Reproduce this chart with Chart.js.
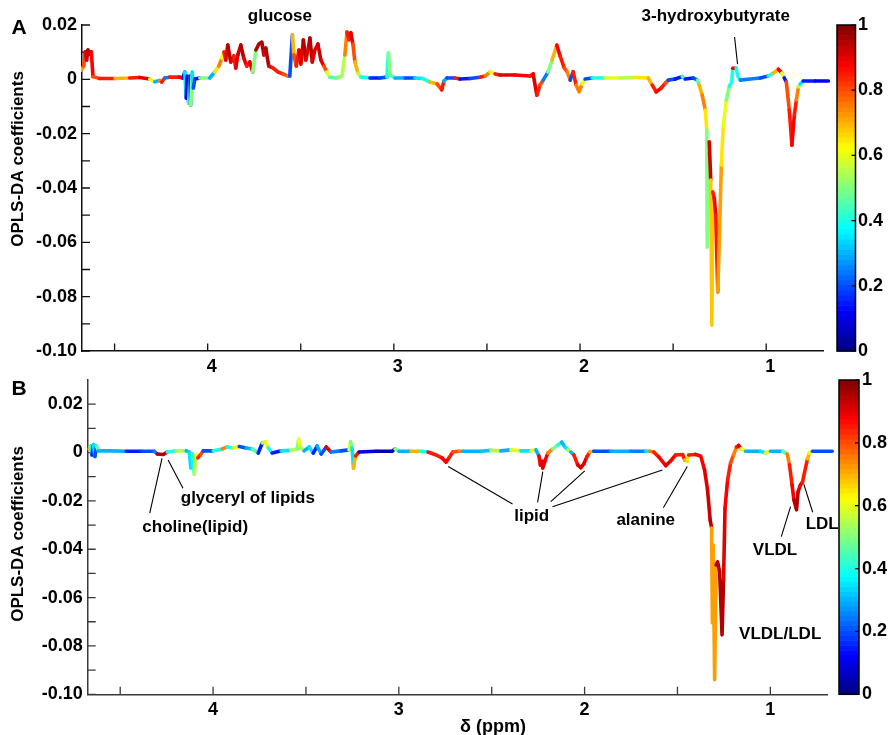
<!DOCTYPE html>
<html>
<head>
<meta charset="utf-8">
<title>OPLS-DA coefficient plots</title>
<script src="https://cdn.jsdelivr.net/npm/chart.js@4.4.1/dist/chart.umd.min.js"></script>
<style>
  html, body { margin: 0; padding: 0; background: #fff; }
  #wrap { position: relative; width: 888px; height: 735px; overflow: hidden; }
  .panel { position: absolute; left: 0; width: 888px; }
</style>
</head>
<body>
<div id="wrap">
  <div class="panel" style="top:0;height:380px"><canvas id="panelA" width="888" height="380"></canvas></div>
  <div class="panel" style="top:362px;height:373px"><canvas id="panelB" width="888" height="373"></canvas></div>
</div>
<script>
// ---- Panel A: chemical shift (ppm), OPLS-DA coefficient, correlation |r| ----
const ppmA = [4.678,4.666,4.658,4.650,4.643,4.634,4.625,4.616,4.580,4.499,4.419,4.365,4.311,4.284,4.258,4.247,4.231,4.204,4.150,4.134,
  4.123,4.115,4.110,4.102,4.095,4.091,4.083,4.077,4.069,4.042,3.989,3.962,3.940,3.924,3.913,3.903,3.892,3.876,3.860,3.849,
  3.838,3.822,3.806,3.790,3.774,3.758,3.741,3.725,3.709,3.698,3.688,3.672,3.650,3.623,3.596,3.569,3.559,3.545,3.537,3.524,
  3.510,3.499,3.486,3.473,3.459,3.451,3.438,3.424,3.408,3.392,3.376,3.360,3.344,3.311,3.279,3.263,3.252,3.241,3.231,3.220,
  3.209,3.193,3.177,3.128,3.075,3.037,3.029,3.021,2.994,2.940,2.887,2.844,2.806,2.768,2.743,2.731,2.715,2.672,2.645,2.591,
  2.537,2.510,2.483,2.456,2.430,2.349,2.268,2.252,2.232,2.215,2.198,2.172,2.150,2.125,2.107,2.085,2.069,2.053,2.037,2.021,
  2.005,1.989,1.973,1.935,1.865,1.784,1.704,1.634,1.612,1.591,1.564,1.542,1.526,1.489,1.451,1.435,1.392,1.370,1.360,1.344,
  1.327,1.319,1.317,1.311,1.306,1.298,1.292,1.287,1.279,1.271,1.260,1.252,1.241,1.231,1.214,1.198,1.185,1.180,1.161,1.153,
  1.139,1.085,1.032,0.989,0.962,0.935,0.916,0.903,0.892,0.876,0.862,0.849,0.838,0.827,0.817,0.801,0.736,0.666];
const coefA = [0.0034,0.0049,0.0101,0.0071,0.0108,0.0093,0.0101,0.0010,0.0003,0.0003,0.0005,0.0007,0.0001,-0.0009,-0.0004,-0.0010,0.0005,0.0008,0.0008,0.0005,
  0.0027,-0.0069,0.0012,-0.0087,0.0012,-0.0095,0.0027,-0.0032,0.0001,0.0005,0.0005,0.0027,0.0049,0.0078,0.0101,0.0071,0.0126,0.0064,0.0086,0.0042,
  0.0090,0.0126,0.0078,0.0049,0.0064,0.0027,0.0108,0.0130,0.0137,0.0090,0.0115,0.0049,0.0042,0.0027,0.0020,0.0012,0.0012,0.0163,0.0090,0.0049,
  0.0108,0.0056,0.0145,0.0071,0.0115,0.0152,0.0064,0.0108,0.0130,0.0071,0.0049,0.0027,0.0008,0.0005,0.0012,0.0090,0.0174,0.0145,0.0171,0.0130,
  0.0064,0.0023,0.0008,0.0005,0.0005,0.0008,0.0097,0.0016,0.0005,0.0005,0.0005,0.0003,-0.0010,-0.0017,-0.0039,-0.0006,0.0005,0.0005,0.0001,0.0003,
  0.0008,0.0012,0.0027,0.0020,0.0016,0.0016,0.0012,0.0020,-0.0058,-0.0021,-0.0003,0.0027,0.0071,0.0126,0.0086,0.0042,0.0027,-0.0003,0.0028,-0.0021,
  -0.0046,-0.0017,0.0001,0.0005,0.0005,0.0005,0.0007,0.0005,-0.0021,-0.0046,-0.0032,-0.0014,-0.0003,0.0001,0.0010,0.0001,0.0005,-0.0003,-0.0021,-0.0058,
  -0.0113,-0.0187,-0.0618,-0.0260,-0.0230,-0.0371,-0.0905,-0.0415,-0.0437,-0.0500,-0.0783,-0.0592,-0.0316,-0.0172,-0.0076,-0.0025,-0.0010,0.0041,0.0041,0.0012,
  -0.0003,0.0001,0.0005,0.0012,0.0023,0.0037,0.0023,0.0005,-0.0010,-0.0113,-0.0242,-0.0132,-0.0076,-0.0028,-0.0017,-0.0006,-0.0006,-0.0006];
const corrA = [0.72,0.80,0.90,0.92,0.95,0.90,0.88,0.80,0.85,0.70,0.85,0.90,0.60,0.30,0.75,0.85,0.25,0.85,0.90,0.15,
  0.35,0.10,0.10,0.45,0.15,0.50,0.35,0.20,0.15,0.50,0.30,0.65,0.75,0.60,0.85,0.90,0.95,0.90,0.85,0.90,
  0.92,0.95,0.90,0.85,0.90,0.50,0.95,0.95,0.95,0.90,0.95,0.90,0.85,0.85,0.80,0.75,0.20,0.70,0.80,0.85,
  0.90,0.90,0.95,0.90,0.92,0.95,0.90,0.90,0.92,0.90,0.80,0.60,0.45,0.50,0.55,0.75,0.85,0.85,0.90,0.80,
  0.70,0.55,0.40,0.15,0.20,0.40,0.50,0.45,0.30,0.20,0.35,0.40,0.70,0.80,0.85,0.30,0.20,0.85,0.15,0.20,
  0.85,0.75,0.60,0.85,0.90,0.88,0.85,0.90,0.85,0.80,0.25,0.50,0.70,0.88,0.85,0.80,0.75,0.20,0.85,0.75,
  0.75,0.60,0.20,0.40,0.60,0.55,0.65,0.70,0.85,0.88,0.85,0.80,0.20,0.15,0.45,0.15,0.20,0.45,0.70,0.75,
  0.65,0.50,0.50,0.60,0.92,0.68,0.68,0.85,0.88,0.85,0.72,0.72,0.65,0.60,0.50,0.40,0.40,0.88,0.40,0.40,
  0.25,0.25,0.20,0.40,0.70,0.88,0.60,0.15,0.80,0.85,0.88,0.85,0.75,0.55,0.35,0.15,0.12,0.12];

// ---- Panel B ----
const ppmB = [4.667,4.660,4.652,4.644,4.636,4.628,4.617,4.547,4.467,4.386,4.316,4.300,4.268,4.246,4.198,4.144,4.128,4.120,4.112,4.101,
  4.093,4.082,4.069,4.053,3.999,3.951,3.924,3.891,3.859,3.822,3.789,3.757,3.735,3.719,3.703,3.682,3.633,3.580,3.547,3.539,
  3.531,3.510,3.483,3.461,3.440,3.418,3.391,3.365,3.311,3.268,3.260,3.252,3.244,3.233,3.214,3.123,3.037,3.020,2.999,2.934,
  2.881,2.843,2.800,2.768,2.746,2.730,2.710,2.676,2.655,2.558,2.504,2.451,2.397,2.343,2.289,2.262,2.246,2.238,2.230,2.225,
  2.211,2.198,2.171,2.144,2.123,2.106,2.090,2.074,2.058,2.037,2.020,2.004,1.988,1.972,1.951,1.859,1.752,1.671,1.649,1.628,
  1.601,1.563,1.537,1.510,1.472,1.461,1.448,1.440,1.402,1.375,1.354,1.338,1.324,1.316,1.312,1.308,1.300,1.292,1.284,1.273,
  1.260,1.252,1.244,1.230,1.214,1.198,1.182,1.171,1.158,1.133,1.053,1.026,0.999,0.934,0.909,0.897,0.883,0.873,0.859,0.851,
  0.838,0.827,0.813,0.800,0.789,0.773,0.667];
const coefB = [0.0015,0.0027,-0.0010,0.0033,-0.0016,0.0027,0.0007,0.0007,0.0005,0.0005,0.0005,-0.0006,-0.0008,0.0002,0.0007,0.0007,0.0002,-0.0064,-0.0006,-0.0089,
  -0.0010,-0.0022,-0.0010,0.0007,0.0007,0.0015,0.0023,0.0019,0.0025,0.0019,0.0015,-0.0002,0.0040,0.0045,0.0019,-0.0002,0.0007,0.0009,0.0015,0.0056,
  0.0023,0.0007,0.0023,-0.0002,0.0027,-0.0006,0.0023,0.0002,0.0007,0.0011,0.0045,0.0019,-0.0065,-0.0014,0.0002,0.0005,0.0005,0.0015,0.0005,0.0005,
  0.0005,0.0002,-0.0010,-0.0022,-0.0040,-0.0022,0.0002,0.0005,0.0005,0.0005,0.0009,0.0007,0.0011,0.0007,0.0007,0.0011,-0.0014,-0.0051,-0.0035,-0.0065,
  -0.0031,-0.0002,0.0015,0.0031,0.0043,0.0023,0.0011,0.0002,-0.0010,-0.0051,-0.0062,-0.0047,-0.0018,0.0002,0.0005,0.0005,0.0005,0.0005,0.0005,0.0002,
  -0.0018,-0.0054,-0.0035,-0.0010,-0.0008,-0.0031,-0.0035,-0.0010,-0.0008,-0.0014,-0.0072,-0.0155,-0.0279,-0.0312,-0.0705,-0.0382,-0.0940,-0.0465,-0.0452,-0.0494,
  -0.0754,-0.0527,-0.0229,-0.0113,-0.0043,-0.0010,0.0023,0.0029,0.0015,0.0005,0.0005,-0.0002,0.0005,0.0005,-0.0006,-0.0051,-0.0134,-0.0196,-0.0237,-0.0163,
  -0.0134,-0.0122,-0.0072,-0.0026,-0.0002,0.0005,0.0005];
const corrB = [0.70,0.40,0.15,0.35,0.20,0.45,0.30,0.30,0.15,0.20,0.25,0.95,0.95,0.40,0.55,0.30,0.35,0.35,0.40,0.55,
  0.60,0.85,0.80,0.20,0.40,0.75,0.40,0.60,0.20,0.30,0.45,0.15,0.55,0.60,0.40,0.15,0.35,0.55,0.50,0.62,
  0.55,0.30,0.35,0.15,0.30,0.20,0.90,0.25,0.20,0.60,0.50,0.35,0.70,0.85,0.10,0.05,0.08,0.50,0.30,0.70,
  0.40,0.85,0.85,0.88,0.88,0.85,0.80,0.75,0.30,0.32,0.55,0.30,0.60,0.35,0.60,0.30,0.88,0.90,0.90,0.90,
  0.88,0.75,0.50,0.40,0.30,0.35,0.55,0.30,0.85,0.90,0.92,0.90,0.85,0.70,0.20,0.30,0.25,0.35,0.75,0.85,
  0.88,0.90,0.88,0.85,0.85,0.70,0.65,0.85,0.88,0.88,0.90,0.92,0.95,0.72,0.72,0.72,0.72,0.95,0.95,0.95,
  0.95,0.90,0.88,0.85,0.80,0.75,0.85,0.90,0.60,0.30,0.35,0.60,0.30,0.45,0.75,0.85,0.88,0.95,0.95,0.90,
  0.88,0.85,0.85,0.70,0.60,0.20,0.15];

// ---- Axis tick values ----
const xTickValues = [4.5, 4, 3.5, 3, 2.5, 2, 1.5, 1];
const xTicksLabelled = [4, 3, 2, 1];
const yTickValuesA = [0.02, 0.01, 0, -0.01, -0.02, -0.03, -0.04, -0.05, -0.06, -0.07, -0.08, -0.09, -0.10];
const yTickValuesB = [0.02, 0.01, 0, -0.01, -0.02, -0.03, -0.04, -0.05, -0.06, -0.07, -0.08, -0.09, -0.10];
const yTicksLabelled = [0.02, 0, -0.02, -0.04, -0.06, -0.08, -0.10];
const colorbarTicks = [0, 0.2, 0.4, 0.6, 0.8, 1];

const FAMILY = "'Liberation Sans', Arial, Helvetica, sans-serif";

// MATLAB-style jet colormap
function jet(v) {
  v = Math.max(0, Math.min(1, v));
  const ch = t => Math.round(255 * Math.max(0, Math.min(1, 1.5 - Math.abs(4 * v - t))));
  return 'rgb(' + ch(3) + ',' + ch(2) + ',' + ch(1) + ')';
}

function yLabel(v) {
  const k = Math.round(v * 100);
  if (!yTicksLabelled.some(t => Math.round(t * 100) === k)) return '';
  return k === 0 ? '0' : (k / 100).toFixed(2);
}
function xLabel(v) {
  return xTicksLabelled.some(t => Math.abs(t - v) < 1e-6) ? String(Math.round(v)) : '';
}
// keep the plot area exactly where the fixed box sizes put it
function noEdgePadding(s) {
  s.paddingTop = 0; s.paddingBottom = 0; s.paddingLeft = 0; s.paddingRight = 0;
}

// Inward tick marks, jet colour bar, annotations and titles
const panelDecor = {
  id: 'panelDecor',
  beforeDatasetsDraw(chart, args, o) {
    const { ctx, chartArea: a, scales: { x, y } } = chart;
    ctx.save();
    ctx.strokeStyle = o.axisColor;
    ctx.lineWidth = 1.3;
    ctx.beginPath();
    x.ticks.forEach(t => {
      const px = x.getPixelForValue(t.value);
      ctx.moveTo(px, a.bottom); ctx.lineTo(px, a.bottom - 7.5);
    });
    y.ticks.forEach(t => {
      const py = y.getPixelForValue(t.value);
      ctx.moveTo(a.left, py); ctx.lineTo(a.left + 8, py);
    });
    ctx.stroke();
    ctx.restore();
  },
  afterDraw(chart, args, o) {
    const { ctx, chartArea: a, scales: { x, y, cb } } = chart;
    ctx.save();
    // colour bar
    const x0 = a.right + o.barOffset, w = o.barWidth, n = 64;
    for (let i = 0; i < n; i++) {
      const yt = cb.getPixelForValue((i + 1) / n), yb = cb.getPixelForValue(i / n);
      ctx.fillStyle = jet((i + 0.5) / n);
      ctx.fillRect(x0, yt, w, yb - yt + 0.6);
    }
    ctx.strokeStyle = '#000';
    ctx.lineWidth = 1.5;
    ctx.strokeRect(x0, cb.top, w, cb.bottom - cb.top);
    ctx.beginPath();
    cb.ticks.forEach(t => {
      const py = cb.getPixelForValue(t.value);
      ctx.moveTo(x0 + w - 4, py); ctx.lineTo(x0 + w, py);
    });
    ctx.lineWidth = 1.2;
    ctx.stroke();

    // leader lines
    ctx.beginPath();
    o.leaders.forEach(([p, q]) => {
      ctx.moveTo(x.getPixelForValue(p[0]), y.getPixelForValue(p[1]));
      ctx.lineTo(x.getPixelForValue(q[0]), y.getPixelForValue(q[1]));
    });
    ctx.lineWidth = 1.1;
    ctx.strokeStyle = '#000';
    ctx.stroke();

    // annotation labels
    ctx.fillStyle = '#000';
    ctx.textAlign = 'center';
    ctx.textBaseline = 'middle';
    ctx.font = 'bold 17px ' + FAMILY;
    o.labels.forEach(l => ctx.fillText(l.text, x.getPixelForValue(l.at[0]), y.getPixelForValue(l.at[1])));

    // panel letter
    ctx.font = 'bold 21px ' + FAMILY;
    ctx.fillText(o.letter, o.letterAt[0], o.letterAt[1]);

    // x title
    if (o.xTitle) {
      ctx.font = 'bold 18px ' + FAMILY;
      ctx.fillText(o.xTitle.text, o.xTitle.at[0], o.xTitle.at[1]);
    }

    // y title
    ctx.translate(o.yTitleAt[0], o.yTitleAt[1]);
    ctx.rotate(-Math.PI / 2);
    ctx.font = 'bold 17px ' + FAMILY;
    ctx.fillText('OPLS-DA coefficients', 0, 0);
    ctx.restore();
  }
};

function makePanel(canvasId, ppm, coef, corr, cfg) {
  const tickFont = { family: FAMILY, size: 18, weight: 'bold' };
  return new Chart(document.getElementById(canvasId), {
    type: 'line',
    data: {
      datasets: [{
        data: ppm.map((p, i) => ({ x: p, y: coef[i] })),
        borderWidth: 3.6,
        borderColor: jet(0.85),
        borderCapStyle: 'round',
        borderJoinStyle: 'round',
        pointRadius: 0,
        tension: 0,
        clip: { left: 1, top: 4, right: 8, bottom: 1 },
        segment: { borderColor: c => jet(corr[c.p0DataIndex]) }
      }]
    },
    options: {
      responsive: false,
      animation: false,
      devicePixelRatio: 1,
      events: [],
      layout: { padding: { top: cfg.padTop, left: 0, right: 0, bottom: 0 } },
      plugins: {
        legend: { display: false },
        tooltip: { enabled: false },
        panelDecor: cfg.decor
      },
      scales: {
        x: {
          type: 'linear',
          reverse: true,
          min: 0.695,
          max: 4.675,
          afterBuildTicks: s => { s.ticks = xTickValues.map(v => ({ value: v })); },
          afterFit: s => { s.height = cfg.xHeight; noEdgePadding(s); },
          grid: { display: false, drawTicks: false },
          border: { display: true, color: cfg.axisColor, width: 1.5 },
          ticks: {
            autoSkip: false, maxRotation: 0, minRotation: 0,
            padding: 5, labelOffset: cfg.xLabelOffset, color: '#000', font: tickFont,
            callback: v => xLabel(v)
          }
        },
        y: {
          type: 'linear',
          position: 'left',
          min: -0.10,
          max: cfg.yMax,
          afterBuildTicks: s => { s.ticks = cfg.yTicks.map(v => ({ value: v })); },
          afterFit: s => { s.width = cfg.yWidth; noEdgePadding(s); },
          grid: { display: false, drawTicks: false },
          border: { display: true, color: cfg.axisColor, width: 1.5 },
          ticks: {
            autoSkip: false, padding: 5, color: '#000', font: tickFont,
            callback: v => yLabel(v)
          }
        },
        cb: {
          type: 'linear',
          position: 'right',
          min: 0,
          max: 1,
          afterBuildTicks: s => { s.ticks = colorbarTicks.map(v => ({ value: v })); },
          afterFit: s => { s.width = cfg.cbWidth; noEdgePadding(s); },
          grid: { display: false, drawTicks: false },
          border: { display: false },
          ticks: {
            autoSkip: false, padding: 35, color: '#000', font: tickFont,
            callback: v => (v === 0 ? '0' : v === 1 ? '1' : v.toFixed(1))
          }
        }
      }
    },
    plugins: [panelDecor]
  });
}

makePanel('panelA', ppmA, coefA, corrA, {
  padTop: 25, xHeight: 29, yWidth: 82, cbWidth: 65, yMax: 0.02, yTicks: yTickValuesA,
  xLabelOffset: 4, axisColor: '#111',
  decor: {
    axisColor: '#111', barOffset: 14, barWidth: 18.5,
    letter: 'A', letterAt: [19, 28], yTitleAt: [18, 159],
    labels: [
      { text: 'glucose', at: [3.612, 0.0232] },
      { text: '3-hydroxybutyrate', at: [1.271, 0.0232] }
    ],
    leaders: [
      [[1.170, 0.0156], [1.154, 0.0056]]
    ]
  }
});

makePanel('panelB', ppmB, coefB, corrB, {
  padTop: 18, xHeight: 40.7, yWidth: 87.7, cbWidth: 61, yMax: 0.03, yTicks: yTickValuesB,
  xLabelOffset: 0, axisColor: '#3a3a3a',
  decor: {
    axisColor: '#3a3a3a', barOffset: 12, barWidth: 20,
    letter: 'B', letterAt: [19, 27], yTitleAt: [18, 172],
    xTitle: { text: 'δ (ppm)', at: [493, 365] },
    labels: [
      { text: 'glyceryl of lipids', at: [3.813, -0.0188] },
      { text: 'choline(lipid)', at: [4.096, -0.0308] },
      { text: 'lipid', at: [2.285, -0.0262] },
      { text: 'alanine', at: [1.671, -0.0279] },
      { text: 'VLDL', at: [0.975, -0.0403] },
      { text: 'LDL', at: [0.721, -0.0295] },
      { text: 'VLDL/LDL', at: [0.947, -0.0750] }
    ],
    leaders: [
      [[4.341, -0.0251], [4.275, -0.0024]],
      [[4.162, -0.0148], [4.242, -0.0031]],
      [[2.388, -0.0213], [2.734, -0.0058]],
      [[2.253, -0.0206], [2.225, -0.0079]],
      [[2.182, -0.0203], [1.999, -0.0076]],
      [[2.173, -0.0224], [1.581, -0.0072]],
      [[1.576, -0.0228], [1.447, -0.0058]],
      [[0.941, -0.0348], [0.891, -0.0224]],
      [[0.772, -0.0247], [0.820, -0.0131]]
    ]
  }
});
</script>
</body>
</html>
